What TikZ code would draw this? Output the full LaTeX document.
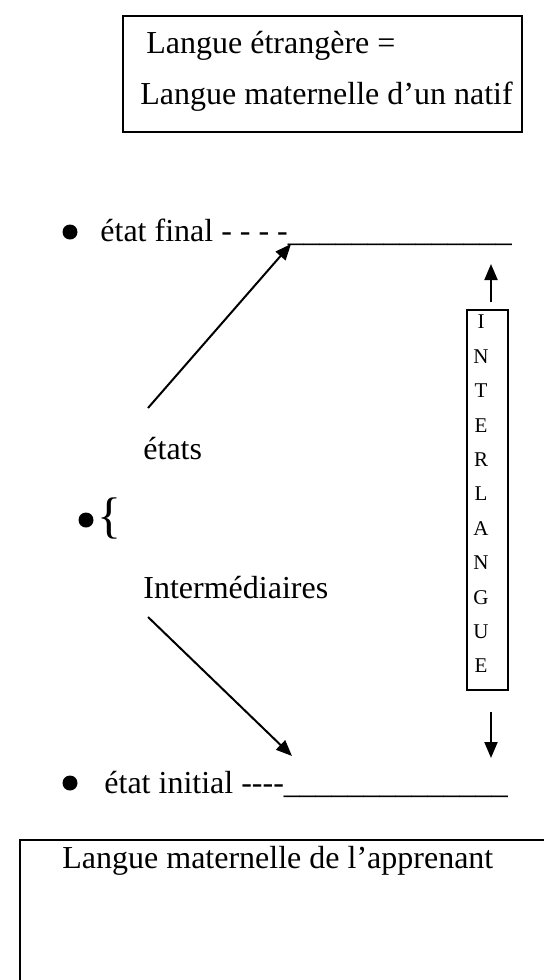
\documentclass[tikz,border=0pt]{standalone}
\usepackage{fontspec}
\setmainfont{Liberation Serif}
\usetikzlibrary{arrows.meta}
\begin{document}
\begin{tikzpicture}[x=0.5pt,y=-0.5pt,
  txt/.style={inner sep=0pt,anchor=base west,font=\fontsize{16}{19}\selectfont},
  frame/.style={draw,line width=1pt},
  arr/.style={line width=1pt,-{Triangle[length=8pt,width=6.5pt]}},
  dot/.style={circle,fill,inner sep=0pt,minimum size=7.5pt},
  letter/.style={inner sep=0pt,font=\fontsize{10.5}{12}\selectfont}]
\useasboundingbox (0,0) rectangle (544,980);
\begin{scope}
\clip (0,0) rectangle (544,980);
% top box
\draw[frame] (123,16) rectangle (522,132);
\node[txt] (t1) at (146,53) {Langue étrangère =};
\node[txt] (t2) at (140,104) {Langue maternelle d’un natif};
% final state
\node[dot] (b1) at (70,232) {};
\node[txt] (f) at (100,241) {état final - - - -\_\_\_\_\_\_\_\_\_\_\_\_\_\_};
\coordinate (ftip) at (291,244);
\coordinate (ftail) at (148,408);
\draw[arr] (ftail) -- (ftip);
% intermediate
\node[txt] (e) at (143,459) {états};
\node[dot] (b2) at (86,520) {};
\node[inner sep=0pt,font=\fontsize{25}{28}\selectfont] (br) at (109,518) {\{};
\node[txt] (i) at (143,598) {Intermédiaires};
\coordinate (itail) at (148,617);
\coordinate (itip) at (292,756);
\draw[arr] (itail) -- (itip);
% initial state
\node[dot] (b3) at (70,783) {};
\node[txt] (s) at (104,793) {état initial -{}-{}-{}-\_\_\_\_\_\_\_\_\_\_\_\_\_\_};
% interlangue
\draw[frame,line width=0.75pt] (467,310) rectangle (508,690);
\foreach \l [count=\k] in {I,N,T,E,R,L,A,N,G,U,E}
  \node[letter] (L\k) at (481,{322+(\k-1)*34.4}) {\l};
\coordinate (ua) at (491,302);
\coordinate (ut) at (491,264);
\draw[arr] (ua) -- (ut);
\coordinate (da) at (491,712);
\coordinate (dt) at (491,758);
\draw[arr] (da) -- (dt);
% bottom box
\draw[frame] (20,990) -- (20,840) -- (560,840);
\node[txt] (b) at (62,868) {Langue maternelle de l’apprenant};
\end{scope}
\end{tikzpicture}
\end{document}
